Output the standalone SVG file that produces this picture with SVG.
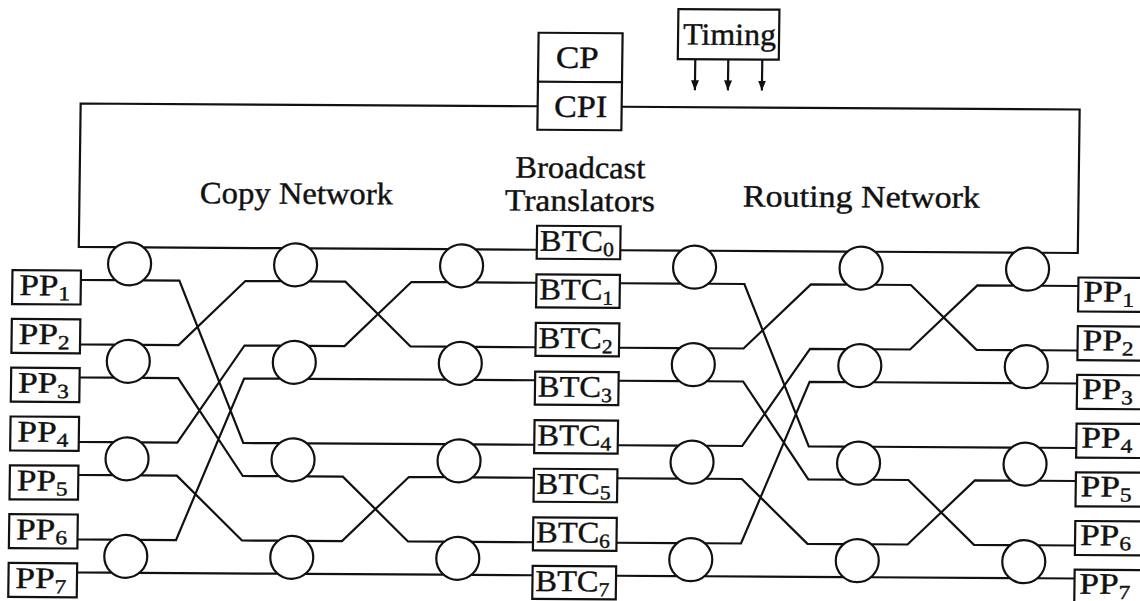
<svg xmlns="http://www.w3.org/2000/svg" width="1140" height="601" viewBox="0 0 1140 601">
<style>
.box{fill:#fff;stroke:#111;stroke-width:2.2}
.sw{fill:#fff;stroke:#111;stroke-width:2.2}
.ln{fill:none;stroke:#111;stroke-width:2.2;stroke-linejoin:miter}
.t{font-family:"Liberation Serif","Times New Roman",serif;font-size:31px;fill:#111;stroke:#111;stroke-width:0.4}
.lb{font-family:"Liberation Serif","Times New Roman",serif;font-size:30px;fill:#111;stroke:#111;stroke-width:0.4}
.sub{font-size:20px}
</style>
<defs>
<marker id="ah" markerUnits="userSpaceOnUse" markerWidth="10" markerHeight="8" refX="10" refY="4" orient="auto">
<path d="M0,0 L10,4 L0,8 z" fill="#111"/>
</marker>
</defs>
<rect width="1140" height="601" fill="#fff"/>
<g transform="matrix(1 0.006 -0.013 1 0 0)">
<g id="connectors">
<path class="ln" d="M119,246.5 H82 V103 H539"/>
<path class="ln" d="M1045,246.5 H1081 V103 H623"/>
<path class="ln" d="M84.5,279.5 H119 M84.5,344 H119 M84.5,377 H119 M84.5,441.5 H119 M84.5,474.5 H119 M84.5,539 H119 M84.5,572 H119"/>
<path class="ln" d="M147,246.5 H285 M147,279.5 H183 L249,441.5 H285 M147,344 H183 L249,279.5 H285 M147,377 H183 L249,474.5 H285 M147,441.5 H183 L249,344 H285 M147,474.5 H183 L249,539 H285 M147,539 H183 L249,377 H285 M147,572 H285"/>
<path class="ln" d="M313,246.5 H451 M313,279.5 H349 L415,344 H451 M313,344 H349 L415,279.5 H451 M313,377 H451 M313,441.5 H451 M313,474.5 H349 L415,539 H451 M313,539 H349 L415,474.5 H451 M313,572 H451"/>
<path class="ln" d="M479,246.5 H540 M479,279.5 H540 M479,344 H540 M479,377 H540 M479,441.5 H540 M479,474.5 H540 M479,539 H540 M479,572 H540"/>
<path class="ln" d="M623.5,246.5 H684 M623.5,279.5 H684 M623.5,344 H684 M623.5,377 H684 M623.5,441.5 H684 M623.5,474.5 H684 M623.5,539 H684 M623.5,572 H684"/>
<path class="ln" d="M712,246.5 H850.5 M712,279.5 H748 L814.5,441.5 H850.5 M712,344 H748 L814.5,279.5 H850.5 M712,377 H748 L814.5,474.5 H850.5 M712,441.5 H748 L814.5,344 H850.5 M712,474.5 H748 L814.5,539 H850.5 M712,539 H748 L814.5,377 H850.5 M712,572 H850.5"/>
<path class="ln" d="M878.5,246.5 H1017 M878.5,279.5 H914.5 L981,344 H1017 M878.5,344 H914.5 L981,279.5 H1017 M878.5,377 H1017 M878.5,441.5 H1017 M878.5,474.5 H914.5 L981,539 H1017 M878.5,539 H914.5 L981,474.5 H1017 M878.5,572 H1017"/>
<path class="ln" d="M1045,279.5 H1082 M1045,344 H1082 M1045,377 H1082 M1045,441.5 H1082 M1045,474.5 H1082 M1045,539 H1082 M1045,572 H1082"/>
<path class="ln" d="M696,55 V86" marker-end="url(#ah)"/>
<path class="ln" d="M729,55 V86" marker-end="url(#ah)"/>
<path class="ln" d="M763,55 V86" marker-end="url(#ah)"/>
</g>
<g id="labels">
<text class="t" x="299" y="202" text-anchor="middle" textLength="193" lengthAdjust="spacingAndGlyphs">Copy Network</text>
<text class="t" x="582.5" y="174.5" text-anchor="middle" textLength="130" lengthAdjust="spacingAndGlyphs">Broadcast</text>
<text class="t" x="582.5" y="207.5" text-anchor="middle" textLength="150" lengthAdjust="spacingAndGlyphs">Translators</text>
<text class="t" x="864" y="202" text-anchor="middle" textLength="237" lengthAdjust="spacingAndGlyphs">Routing Network</text>
</g>
<g id="cp"><rect class="box" x="539" y="29.5" width="84" height="49"/><text class="t" x="578" y="64.5" text-anchor="middle" textLength="43" lengthAdjust="spacingAndGlyphs">CP</text></g>
<g id="cpi"><rect class="box" x="539" y="78.5" width="84" height="48"/><text class="t" x="582" y="113.5" text-anchor="middle" textLength="53" lengthAdjust="spacingAndGlyphs">CPI</text></g>
<g id="timing"><rect class="box" x="678.5" y="5" width="101" height="50"/><text class="t" x="730" y="40.5" text-anchor="middle" textLength="93" lengthAdjust="spacingAndGlyphs">Timing</text></g>
<g id="sw1">
<circle class="sw" cx="133" cy="263" r="21.5"/><circle class="sw" cx="133" cy="360.5" r="21.5"/><circle class="sw" cx="133" cy="458" r="21.5"/><circle class="sw" cx="133" cy="555.5" r="21.5"/>
</g>
<g id="sw2">
<circle class="sw" cx="299" cy="263" r="21.5"/><circle class="sw" cx="299" cy="360.5" r="21.5"/><circle class="sw" cx="299" cy="458" r="21.5"/><circle class="sw" cx="299" cy="555.5" r="21.5"/>
</g>
<g id="sw3">
<circle class="sw" cx="465" cy="263" r="21.5"/><circle class="sw" cx="465" cy="360.5" r="21.5"/><circle class="sw" cx="465" cy="458" r="21.5"/><circle class="sw" cx="465" cy="555.5" r="21.5"/>
</g>
<g id="sw4">
<circle class="sw" cx="698" cy="263" r="21.5"/><circle class="sw" cx="698" cy="360.5" r="21.5"/><circle class="sw" cx="698" cy="458" r="21.5"/><circle class="sw" cx="698" cy="555.5" r="21.5"/>
</g>
<g id="sw5">
<circle class="sw" cx="864.5" cy="263" r="21.5"/><circle class="sw" cx="864.5" cy="360.5" r="21.5"/><circle class="sw" cx="864.5" cy="458" r="21.5"/><circle class="sw" cx="864.5" cy="555.5" r="21.5"/>
</g>
<g id="sw6">
<circle class="sw" cx="1031" cy="263" r="21.5"/><circle class="sw" cx="1031" cy="360.5" r="21.5"/><circle class="sw" cx="1031" cy="458" r="21.5"/><circle class="sw" cx="1031" cy="555.5" r="21.5"/>
</g>
<g id="btc0"><rect class="box" x="540" y="222.5" width="83.5" height="33"/><text class="lb" x="543" y="247.5" textLength="74" lengthAdjust="spacingAndGlyphs">BTC<tspan class="sub" dy="5">0</tspan></text></g>
<g id="btc1"><rect class="box" x="540" y="271.1" width="83.5" height="33"/><text class="lb" x="543" y="296.1" textLength="74" lengthAdjust="spacingAndGlyphs">BTC<tspan class="sub" dy="5">1</tspan></text></g>
<g id="btc2"><rect class="box" x="540" y="319.7" width="83.5" height="33"/><text class="lb" x="543" y="344.7" textLength="74" lengthAdjust="spacingAndGlyphs">BTC<tspan class="sub" dy="5">2</tspan></text></g>
<g id="btc3"><rect class="box" x="540" y="368.3" width="83.5" height="33"/><text class="lb" x="543" y="393.3" textLength="74" lengthAdjust="spacingAndGlyphs">BTC<tspan class="sub" dy="5">3</tspan></text></g>
<g id="btc4"><rect class="box" x="540" y="416.9" width="83.5" height="33"/><text class="lb" x="543" y="441.9" textLength="74" lengthAdjust="spacingAndGlyphs">BTC<tspan class="sub" dy="5">4</tspan></text></g>
<g id="btc5"><rect class="box" x="540" y="465.5" width="83.5" height="33"/><text class="lb" x="543" y="490.5" textLength="74" lengthAdjust="spacingAndGlyphs">BTC<tspan class="sub" dy="5">5</tspan></text></g>
<g id="btc6"><rect class="box" x="540" y="514.1" width="83.5" height="33"/><text class="lb" x="543" y="539.1" textLength="74" lengthAdjust="spacingAndGlyphs">BTC<tspan class="sub" dy="5">6</tspan></text></g>
<g id="btc7"><rect class="box" x="540" y="562.7" width="83.5" height="33"/><text class="lb" x="543" y="587.7" textLength="74" lengthAdjust="spacingAndGlyphs">BTC<tspan class="sub" dy="5">7</tspan></text></g>
<g id="ppl1"><rect class="box" x="16" y="270" width="68.5" height="34"/><text class="lb" x="23" y="295" textLength="51" lengthAdjust="spacingAndGlyphs">PP<tspan class="sub" dy="5">1</tspan></text></g>
<g id="ppl2"><rect class="box" x="16" y="318.8" width="68.5" height="34"/><text class="lb" x="23" y="343.8" textLength="51" lengthAdjust="spacingAndGlyphs">PP<tspan class="sub" dy="5">2</tspan></text></g>
<g id="ppl3"><rect class="box" x="16" y="367.6" width="68.5" height="34"/><text class="lb" x="23" y="392.6" textLength="51" lengthAdjust="spacingAndGlyphs">PP<tspan class="sub" dy="5">3</tspan></text></g>
<g id="ppl4"><rect class="box" x="16" y="416.4" width="68.5" height="34"/><text class="lb" x="23" y="441.4" textLength="51" lengthAdjust="spacingAndGlyphs">PP<tspan class="sub" dy="5">4</tspan></text></g>
<g id="ppl5"><rect class="box" x="16" y="465.2" width="68.5" height="34"/><text class="lb" x="23" y="490.2" textLength="51" lengthAdjust="spacingAndGlyphs">PP<tspan class="sub" dy="5">5</tspan></text></g>
<g id="ppl6"><rect class="box" x="16" y="514" width="68.5" height="34"/><text class="lb" x="23" y="539" textLength="51" lengthAdjust="spacingAndGlyphs">PP<tspan class="sub" dy="5">6</tspan></text></g>
<g id="ppl7"><rect class="box" x="16" y="562.8" width="68.5" height="34"/><text class="lb" x="23" y="587.8" textLength="51" lengthAdjust="spacingAndGlyphs">PP<tspan class="sub" dy="5">7</tspan></text></g>
<g id="ppr1"><rect class="box" x="1082" y="271" width="70" height="34"/><text class="lb" x="1087" y="295" textLength="51" lengthAdjust="spacingAndGlyphs">PP<tspan class="sub" dy="5">1</tspan></text></g>
<g id="ppr2"><rect class="box" x="1082" y="319.7" width="70" height="34"/><text class="lb" x="1087" y="343.7" textLength="51" lengthAdjust="spacingAndGlyphs">PP<tspan class="sub" dy="5">2</tspan></text></g>
<g id="ppr3"><rect class="box" x="1082" y="368.4" width="70" height="34"/><text class="lb" x="1087" y="392.4" textLength="51" lengthAdjust="spacingAndGlyphs">PP<tspan class="sub" dy="5">3</tspan></text></g>
<g id="ppr4"><rect class="box" x="1082" y="417.1" width="70" height="34"/><text class="lb" x="1087" y="441.1" textLength="51" lengthAdjust="spacingAndGlyphs">PP<tspan class="sub" dy="5">4</tspan></text></g>
<g id="ppr5"><rect class="box" x="1082" y="465.8" width="70" height="34"/><text class="lb" x="1087" y="489.8" textLength="51" lengthAdjust="spacingAndGlyphs">PP<tspan class="sub" dy="5">5</tspan></text></g>
<g id="ppr6"><rect class="box" x="1082" y="514.5" width="70" height="34"/><text class="lb" x="1087" y="538.5" textLength="51" lengthAdjust="spacingAndGlyphs">PP<tspan class="sub" dy="5">6</tspan></text></g>
<g id="ppr7"><rect class="box" x="1082" y="563.2" width="70" height="34"/><text class="lb" x="1087" y="587.2" textLength="51" lengthAdjust="spacingAndGlyphs">PP<tspan class="sub" dy="5">7</tspan></text></g>
</g>
</svg>
